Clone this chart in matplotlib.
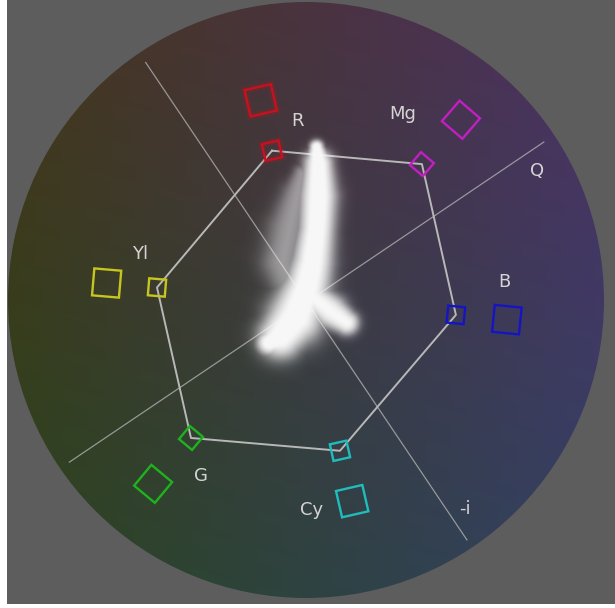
import numpy as np
import matplotlib
matplotlib.use("Agg")
import matplotlib.pyplot as plt
from matplotlib.patches import Circle, Polygon

# ---- data (scope units, circle radius = 1) ----
names = ["R", "Mg", "B", "Cy", "G", "Yl"]
colors = ["#c8101e", "#c21fc2", "#1414c4", "#1fbdbd", "#1fb21f", "#c6c61e"]
inner_u = [-0.114, 0.389, 0.503, 0.114, -0.386, -0.500]   # 75% targets
inner_v = [0.501, 0.456, -0.050, -0.506, -0.463, 0.042]
outer_u = [-0.152, 0.520, 0.674, 0.155, -0.513, -0.669]   # 100% targets
outer_v = [0.670, 0.605, -0.066, -0.675, -0.617, 0.057]

label_text = ["R", "Mg", "Q", "B", "-i", "Cy", "G", "Yl"]
label_u = [-0.030, 0.326, 0.775, 0.667, 0.535, 0.019, -0.353, -0.557]
label_v = [0.602, 0.624, 0.433, 0.060, -0.701, -0.704, -0.589, 0.154]

# I and Q axis lines (end points)
axis_u = [[-0.538, 0.540], [-0.794, 0.798]]
axis_v = [[0.797, -0.805], [-0.544, 0.530]]

# trace strokes: u, v, half width
trace_main_u = [0.034, 0.040, 0.040, 0.034, 0.020, 0.000, -0.037, -0.087, -0.125]
trace_main_v = [0.510, 0.453, 0.346, 0.235, 0.124, 0.034, -0.060, -0.124, -0.145]
trace_main_w = [0.022, 0.045, 0.058, 0.056, 0.064, 0.074, 0.086, 0.070, 0.040]
trace_leg_u = [-0.003, 0.081, 0.135]
trace_leg_v = [0.027, -0.040, -0.078]
trace_leg_w = [0.046, 0.052, 0.038]
trace_haze_u = [-0.015, -0.032, -0.058, -0.080, -0.050]
trace_haze_v = [0.420, 0.346, 0.235, 0.124, 0.034]
trace_haze_w = [0.025, 0.042, 0.058, 0.058, 0.050]

CENTER_PX = (306, 300)
SCALE = 298.0

fig = plt.figure(figsize=(6.15, 6.08), dpi=100, facecolor="white")
W, H = 615, 608
left, bottom_px, top_px = 7, 4, 0
ax = fig.add_axes([left / W, bottom_px / H, (W - left) / W, (H - bottom_px - top_px) / H])
ax.set_facecolor("#5d5d5d")
ax.set_xticks([])
ax.set_yticks([])
for s in ax.spines.values():
    s.set_visible(False)

# colour wheel background
n = 600
g = np.linspace(-1, 1, n)
U, V = np.meshgrid(g, g[::-1])
c0 = np.array([60, 59, 64]) / 255
ca = np.array([4, -2, 36]) / 255
cb = np.array([14, -8, -1]) / 255
rgb = c0 + U[..., None] * ca + V[..., None] * cb
rgb = np.clip(rgb, 0, 1)
im = ax.imshow(rgb, extent=[-1, 1, -1, 1], zorder=1, interpolation="bilinear")
clip = Circle((0, 0), 1.0, transform=ax.transData)
im.set_clip_path(clip)

# I / Q axes
for uu, vv in zip(axis_u, axis_v):
    ax.plot(uu, vv, color="#a8a8a8", lw=0.9, alpha=0.85, zorder=2)

# hexagon graticule
hx = inner_u + inner_u[:1]
hy = inner_v + inner_v[:1]
ax.plot(hx, hy, color="#b8b8b8", lw=1.4, zorder=3)


def square(u, v, side):
    th = np.arctan2(v, u)
    c, s = np.cos(th), np.sin(th)
    pts = []
    for a, b in [(-1, -1), (1, -1), (1, 1), (-1, 1)]:
        x, y = a * side / 2, b * side / 2
        pts.append((u + c * x - s * y, v + s * x + c * y))
    return pts


for i in range(6):
    for uu, vv, side in [(inner_u[i], inner_v[i], 17 / SCALE), (outer_u[i], outer_v[i], 27 / SCALE)]:
        if names[i] == "R":
            ax.add_patch(Polygon(square(uu, vv, side), closed=True, fill=False,
                                 edgecolor=colors[i], lw=5, alpha=0.18, zorder=3))
        ax.add_patch(Polygon(square(uu, vv, side), closed=True, fill=False,
                             edgecolor=colors[i], lw=1.7, zorder=4))

# trace raster
tx = np.linspace(-0.32, 0.32, 384)
ty = np.linspace(-0.32, 0.64, 576)
TX, TY = np.meshgrid(tx, ty[::-1])
inten = np.zeros_like(TX)
for su, sv, sw, peak, soft in [(trace_main_u, trace_main_v, trace_main_w, 1.0, 0.25),
                               (trace_leg_u, trace_leg_v, trace_leg_w, 0.95, 0.25),
                               (trace_haze_u, trace_haze_v, trace_haze_w, 0.5, 0.35)]:
    for k in range(len(su) - 1):
        p0 = np.array([su[k], sv[k]])
        p1 = np.array([su[k + 1], sv[k + 1]])
        d = p1 - p0
        t = ((TX - p0[0]) * d[0] + (TY - p0[1]) * d[1]) / (d @ d)
        t = np.clip(t, 0, 1)
        dist = np.hypot(TX - (p0[0] + t * d[0]), TY - (p0[1] + t * d[1]))
        w = sw[k] + t * (sw[k + 1] - sw[k])
        val = peak / (1 + np.exp((dist - w) / (soft * w)))
        inten = np.maximum(inten, val)
rgba = np.ones(TX.shape + (4,))
rgba[..., :3] = 0.97
rgba[..., 3] = np.clip(inten * 1.1, 0, 1)
ax.imshow(rgba, extent=[tx[0], tx[-1], ty[0], ty[-1]], zorder=5, interpolation="bilinear")

# labels
for t, uu, vv in zip(label_text, label_u, label_v):
    ax.text(uu, vv, t, color="#d4d4d4", fontsize=13, ha="center", va="center", zorder=6)

ax.set_xlim(-(CENTER_PX[0] - left) / SCALE, (W - CENTER_PX[0]) / SCALE)
ax.set_ylim(-(H - bottom_px - CENTER_PX[1]) / SCALE, (CENTER_PX[1] - top_px) / SCALE)
ax.set_aspect("equal")
fig.savefig("out.png", dpi=100, facecolor="white")
